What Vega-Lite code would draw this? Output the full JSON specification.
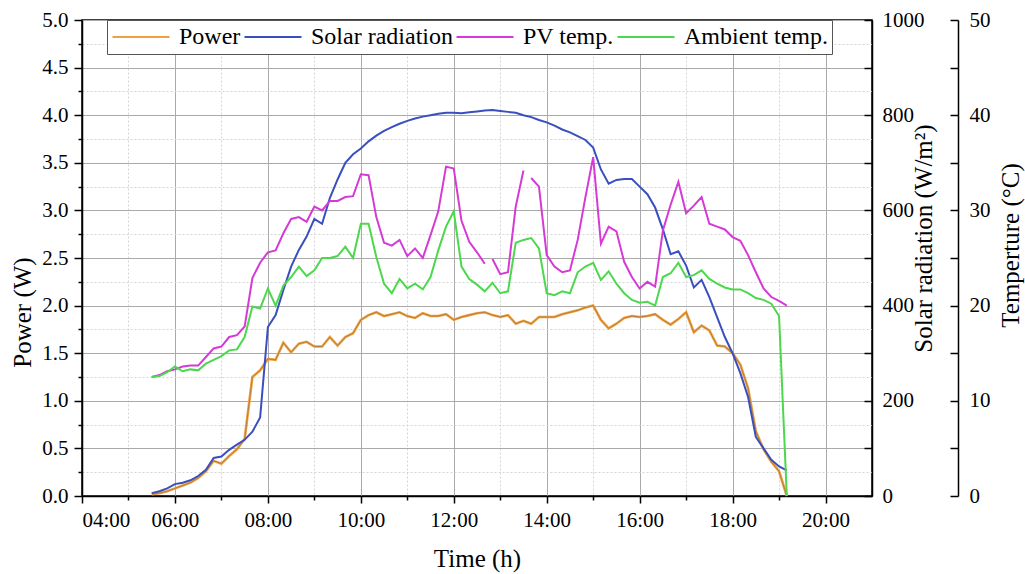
{
  "$schema": "https://vega.github.io/schema/vega-lite/v6.json",
  "width": 790,
  "height": 476,
  "autosize": {"type": "none"},
  "padding": {"left": 82, "top": 20, "right": 153, "bottom": 78},
  "background": "white",
  "config": {
    "view": {"stroke": "black", "strokeWidth": 1.5},
    "font": "Liberation Serif",
    "axis": {
      "labelFont": "Liberation Serif", "labelFontSize": 21, "labelColor": "black",
      "titleFont": "Liberation Serif", "titleFontSize": 25, "titleFontWeight": "normal", "titleColor": "black",
      "domainColor": "black", "domainWidth": 1.5, "tickColor": "black", "tickWidth": 1.5
    },
    "legend": {"labelFont": "Liberation Serif"}
  },
  "data": {"values": [
    {"time": "2021-06-01T05:30", "power": 0.02, "solar": 6, "pv": 12.5, "ambient": 12.5},
    {"time": "2021-06-01T05:40", "power": 0.03, "solar": 10, "pv": 12.7, "ambient": 12.6},
    {"time": "2021-06-01T05:50", "power": 0.05, "solar": 16, "pv": 13.1, "ambient": 13.0},
    {"time": "2021-06-01T06:00", "power": 0.08, "solar": 25, "pv": 13.3, "ambient": 13.6},
    {"time": "2021-06-01T06:10", "power": 0.11, "solar": 28, "pv": 13.6, "ambient": 13.1},
    {"time": "2021-06-01T06:20", "power": 0.14, "solar": 33, "pv": 13.7, "ambient": 13.3},
    {"time": "2021-06-01T06:30", "power": 0.19, "solar": 42, "pv": 13.7, "ambient": 13.2},
    {"time": "2021-06-01T06:40", "power": 0.26, "solar": 55, "pv": 14.6, "ambient": 13.9},
    {"time": "2021-06-01T06:50", "power": 0.37, "solar": 80, "pv": 15.5, "ambient": 14.3},
    {"time": "2021-06-01T07:00", "power": 0.34, "solar": 83, "pv": 15.7, "ambient": 14.7},
    {"time": "2021-06-01T07:10", "power": 0.42, "solar": 97, "pv": 16.7, "ambient": 15.3},
    {"time": "2021-06-01T07:20", "power": 0.49, "solar": 108, "pv": 16.9, "ambient": 15.4},
    {"time": "2021-06-01T07:30", "power": 0.60, "solar": 118, "pv": 17.8, "ambient": 16.7},
    {"time": "2021-06-01T07:40", "power": 1.25, "solar": 135, "pv": 22.9, "ambient": 19.9},
    {"time": "2021-06-01T07:50", "power": 1.32, "solar": 165, "pv": 24.5, "ambient": 19.7},
    {"time": "2021-06-01T08:00", "power": 1.44, "solar": 355, "pv": 25.6, "ambient": 21.8},
    {"time": "2021-06-01T08:10", "power": 1.43, "solar": 380, "pv": 25.8, "ambient": 20.0},
    {"time": "2021-06-01T08:20", "power": 1.61, "solar": 433, "pv": 27.6, "ambient": 22.1},
    {"time": "2021-06-01T08:30", "power": 1.51, "solar": 482, "pv": 29.1, "ambient": 23.0},
    {"time": "2021-06-01T08:40", "power": 1.60, "solar": 517, "pv": 29.3, "ambient": 24.1},
    {"time": "2021-06-01T08:50", "power": 1.62, "solar": 545, "pv": 28.8, "ambient": 23.1},
    {"time": "2021-06-01T09:00", "power": 1.57, "solar": 582, "pv": 30.4, "ambient": 23.7},
    {"time": "2021-06-01T09:10", "power": 1.57, "solar": 572, "pv": 30.0, "ambient": 25.0},
    {"time": "2021-06-01T09:20", "power": 1.67, "solar": 626, "pv": 31.0, "ambient": 25.0},
    {"time": "2021-06-01T09:30", "power": 1.58, "solar": 665, "pv": 31.0, "ambient": 25.2},
    {"time": "2021-06-01T09:40", "power": 1.67, "solar": 700, "pv": 31.4, "ambient": 26.2},
    {"time": "2021-06-01T09:50", "power": 1.71, "solar": 718, "pv": 31.5, "ambient": 25.0},
    {"time": "2021-06-01T10:00", "power": 1.85, "solar": 730, "pv": 33.8, "ambient": 28.6},
    {"time": "2021-06-01T10:10", "power": 1.90, "solar": 745, "pv": 33.7, "ambient": 28.6},
    {"time": "2021-06-01T10:20", "power": 1.93, "solar": 757, "pv": 29.3, "ambient": 25.1},
    {"time": "2021-06-01T10:30", "power": 1.89, "solar": 767, "pv": 26.6, "ambient": 22.3},
    {"time": "2021-06-01T10:40", "power": 1.91, "solar": 775, "pv": 26.3, "ambient": 21.3},
    {"time": "2021-06-01T10:50", "power": 1.93, "solar": 782, "pv": 26.9, "ambient": 22.8},
    {"time": "2021-06-01T11:00", "power": 1.89, "solar": 788, "pv": 25.2, "ambient": 21.8},
    {"time": "2021-06-01T11:10", "power": 1.87, "solar": 793, "pv": 26.0, "ambient": 22.3},
    {"time": "2021-06-01T11:20", "power": 1.92, "solar": 797, "pv": 25.0, "ambient": 21.7},
    {"time": "2021-06-01T11:30", "power": 1.89, "solar": 800, "pv": 27.4, "ambient": 23.0},
    {"time": "2021-06-01T11:40", "power": 1.89, "solar": 803, "pv": 29.9, "ambient": 25.8},
    {"time": "2021-06-01T11:50", "power": 1.91, "solar": 805, "pv": 34.6, "ambient": 28.3},
    {"time": "2021-06-01T12:00", "power": 1.85, "solar": 805, "pv": 34.4, "ambient": 29.9},
    {"time": "2021-06-01T12:10", "power": 1.88, "solar": 804, "pv": 28.9, "ambient": 24.1},
    {"time": "2021-06-01T12:20", "power": 1.90, "solar": 806, "pv": 26.7, "ambient": 22.8},
    {"time": "2021-06-01T12:30", "power": 1.92, "solar": 808, "pv": 25.6, "ambient": 22.2},
    {"time": "2021-06-01T12:40", "power": 1.93, "solar": 810, "pv": 24.4, "ambient": 21.5},
    {"time": "2021-06-01T12:45", "pv": null},
    {"time": "2021-06-01T12:50", "power": 1.90, "solar": 811, "pv": 24.9, "ambient": 22.4},
    {"time": "2021-06-01T13:00", "power": 1.88, "solar": 809, "pv": 23.3, "ambient": 21.3},
    {"time": "2021-06-01T13:10", "power": 1.90, "solar": 807, "pv": 23.5, "ambient": 21.5},
    {"time": "2021-06-01T13:20", "power": 1.81, "solar": 805, "pv": 30.4, "ambient": 26.6},
    {"time": "2021-06-01T13:30", "power": 1.84, "solar": 800, "pv": 34.2, "ambient": 26.9},
    {"time": "2021-06-01T13:35", "pv": null},
    {"time": "2021-06-01T13:40", "power": 1.81, "solar": 796, "pv": 33.4, "ambient": 27.1},
    {"time": "2021-06-01T13:50", "power": 1.88, "solar": 790, "pv": 32.5, "ambient": 26.0},
    {"time": "2021-06-01T14:00", "power": 1.88, "solar": 785, "pv": 25.3, "ambient": 21.3},
    {"time": "2021-06-01T14:10", "power": 1.88, "solar": 778, "pv": 24.1, "ambient": 21.1},
    {"time": "2021-06-01T14:20", "power": 1.91, "solar": 770, "pv": 23.5, "ambient": 21.5},
    {"time": "2021-06-01T14:30", "power": 1.93, "solar": 764, "pv": 23.7, "ambient": 21.3},
    {"time": "2021-06-01T14:40", "power": 1.95, "solar": 756, "pv": 26.9, "ambient": 23.5},
    {"time": "2021-06-01T14:50", "power": 1.98, "solar": 748, "pv": 31.4, "ambient": 24.1},
    {"time": "2021-06-01T15:00", "power": 2.00, "solar": 732, "pv": 35.6, "ambient": 24.5},
    {"time": "2021-06-01T15:10", "power": 1.85, "solar": 686, "pv": 26.5, "ambient": 22.7},
    {"time": "2021-06-01T15:20", "power": 1.76, "solar": 656, "pv": 28.3, "ambient": 23.6},
    {"time": "2021-06-01T15:30", "power": 1.81, "solar": 664, "pv": 27.8, "ambient": 22.3},
    {"time": "2021-06-01T15:40", "power": 1.87, "solar": 666, "pv": 24.6, "ambient": 21.3},
    {"time": "2021-06-01T15:50", "power": 1.89, "solar": 666, "pv": 23.0, "ambient": 20.6},
    {"time": "2021-06-01T16:00", "power": 1.88, "solar": 650, "pv": 21.8, "ambient": 20.3},
    {"time": "2021-06-01T16:10", "power": 1.89, "solar": 634, "pv": 22.5, "ambient": 20.4},
    {"time": "2021-06-01T16:20", "power": 1.91, "solar": 606, "pv": 22.0, "ambient": 20.0},
    {"time": "2021-06-01T16:30", "power": 1.85, "solar": 560, "pv": 27.9, "ambient": 23.0},
    {"time": "2021-06-01T16:40", "power": 1.80, "solar": 508, "pv": 30.6, "ambient": 23.4},
    {"time": "2021-06-01T16:50", "power": 1.86, "solar": 514, "pv": 33.0, "ambient": 24.5},
    {"time": "2021-06-01T17:00", "power": 1.93, "solar": 484, "pv": 29.7, "ambient": 23.0},
    {"time": "2021-06-01T17:10", "power": 1.72, "solar": 438, "pv": 30.5, "ambient": 23.2},
    {"time": "2021-06-01T17:20", "power": 1.79, "solar": 454, "pv": 31.4, "ambient": 23.7},
    {"time": "2021-06-01T17:30", "power": 1.74, "solar": 418, "pv": 28.6, "ambient": 22.8},
    {"time": "2021-06-01T17:40", "power": 1.58, "solar": 376, "pv": 28.3, "ambient": 22.3},
    {"time": "2021-06-01T17:50", "power": 1.57, "solar": 334, "pv": 28.0, "ambient": 21.9},
    {"time": "2021-06-01T18:00", "power": 1.50, "solar": 300, "pv": 27.2, "ambient": 21.7},
    {"time": "2021-06-01T18:10", "power": 1.38, "solar": 258, "pv": 26.8, "ambient": 21.7},
    {"time": "2021-06-01T18:20", "power": 1.13, "solar": 208, "pv": 25.3, "ambient": 21.3},
    {"time": "2021-06-01T18:30", "power": 0.68, "solar": 124, "pv": 23.5, "ambient": 20.8},
    {"time": "2021-06-01T18:40", "power": 0.49, "solar": 100, "pv": 21.8, "ambient": 20.6},
    {"time": "2021-06-01T18:50", "power": 0.36, "solar": 76, "pv": 20.9, "ambient": 20.2},
    {"time": "2021-06-01T19:00", "power": 0.26, "solar": 62, "pv": 20.5, "ambient": 18.9},
    {"time": "2021-06-01T19:10", "power": 0.00, "solar": 54, "pv": 20.0, "ambient": 0.0}
  ]},
  "encoding": {
    "x": {
      "field": "time", "type": "temporal",
      "scale": {"domain": [
        {"year": 2021, "month": 6, "date": 1, "hours": 4},
        {"year": 2021, "month": 6, "date": 1, "hours": 21}
      ]},
      "axis": {
        "title": "Time (h)",
        "titleX": 395, "titleY": 62, "titleAlign": "center", "titleBaseline": "middle",
        "values": [
          {"year": 2021, "month": 6, "date": 1, "hours": 4},
          {"year": 2021, "month": 6, "date": 1, "hours": 5},
          {"year": 2021, "month": 6, "date": 1, "hours": 6},
          {"year": 2021, "month": 6, "date": 1, "hours": 7},
          {"year": 2021, "month": 6, "date": 1, "hours": 8},
          {"year": 2021, "month": 6, "date": 1, "hours": 9},
          {"year": 2021, "month": 6, "date": 1, "hours": 10},
          {"year": 2021, "month": 6, "date": 1, "hours": 11},
          {"year": 2021, "month": 6, "date": 1, "hours": 12},
          {"year": 2021, "month": 6, "date": 1, "hours": 13},
          {"year": 2021, "month": 6, "date": 1, "hours": 14},
          {"year": 2021, "month": 6, "date": 1, "hours": 15},
          {"year": 2021, "month": 6, "date": 1, "hours": 16},
          {"year": 2021, "month": 6, "date": 1, "hours": 17},
          {"year": 2021, "month": 6, "date": 1, "hours": 18},
          {"year": 2021, "month": 6, "date": 1, "hours": 19},
          {"year": 2021, "month": 6, "date": 1, "hours": 20}
        ],
        "labelExpr": "hours(datum.value) % 2 == 0 ? timeFormat(datum.value, '%H:%M') : ''",
        "labelPadding": 6,
        "tickSize": {"condition": {"test": "hours(datum.value) % 2 == 1", "value": 4}, "value": 7},
        "grid": true,
        "gridColor": {"condition": {"test": "hours(datum.value) % 2 == 1", "value": "#d4d4d4"}, "value": "#aaaaaa"},
        "gridDash": {"condition": {"test": "hours(datum.value) % 2 == 1", "value": [2, 2]}, "value": []},
        "gridWidth": 1
      }
    }
  },
  "layer": [
    {
      "transform": [{"filter": "isValid(datum.power)"}],
      "mark": {"type": "line", "strokeWidth": 2.6},
      "encoding": {
        "y": {
          "field": "power", "type": "quantitative",
          "scale": {"domain": [0, 5], "nice": false},
          "axis": {
            "title": "Power (W)",
            "titleAngle": -90, "titleX": -60, "titleY": 292, "titleAlign": "center", "titleBaseline": "middle",
            "values": [0, 0.25, 0.5, 0.75, 1, 1.25, 1.5, 1.75, 2, 2.25, 2.5, 2.75, 3, 3.25, 3.5, 3.75, 4, 4.25, 4.5, 4.75, 5],
            "labelExpr": "datum.value % 0.5 == 0 ? format(datum.value, '.1f') : ''",
            "labelPadding": 6,
            "tickSize": {"condition": {"test": "datum.value % 0.5 != 0", "value": 4}, "value": 8},
            "grid": true,
            "gridColor": {"condition": {"test": "datum.value % 0.5 != 0", "value": "#d4d4d4"}, "value": "#aaaaaa"},
            "gridDash": {"condition": {"test": "datum.value % 0.5 != 0", "value": [2, 2]}, "value": []},
            "gridWidth": 1
          }
        },
        "color": {
          "datum": "Power", "type": "nominal",
          "scale": {
            "domain": ["Power", "Solar radiation", "PV temp.", "Ambient temp."],
            "range": ["#F0A040", "#3A4FBF", "#D63AD6", "#4CD84C"]
          },
          "legend": {
            "title": null, "orient": "none", "legendX": 25, "legendY": 0,
            "direction": "horizontal",
            "strokeColor": "#555555", "fillColor": "white", "padding": 4,
            "labelFontSize": 24, "labelColor": "black", "labelOffset": 8,
            "symbolSize": 3250, "symbolStrokeWidth": 2, "columnPadding": 2,
            "clipHeight": 26,
            "labelLimit": 300
          }
        }
      }
    },
    {
      "transform": [{"filter": "isValid(datum.power)"}],
      "mark": {"type": "line", "strokeWidth": 0.5, "color": "#333333", "opacity": 0.6},
      "encoding": {
        "y": {"field": "power", "type": "quantitative", "scale": {"domain": [0, 5], "nice": false}, "axis": null}
      }
    },
    {
      "transform": [{"filter": "isValid(datum.solar)"}],
      "mark": {"type": "line", "strokeWidth": 2},
      "encoding": {
        "y": {
          "field": "solar", "type": "quantitative",
          "scale": {"domain": [0, 1000], "nice": false},
          "axis": {
            "orient": "right",
            "title": "Solar radiation (W/m²)",
            "titleAngle": -90, "titleX": 51, "titleY": 218, "titleAlign": "center", "titleBaseline": "middle",
            "values": [0, 100, 200, 300, 400, 500, 600, 700, 800, 900, 1000],
            "format": "d",
            "labelExpr": "datum.value % 200 == 0 ? datum.label : ''",
            "tickSize": -8, "labelPadding": 18,
            "grid": false
          }
        },
        "color": {"datum": "Solar radiation", "type": "nominal"}
      }
    },
    {
      "mark": {"type": "line", "strokeWidth": 2, "invalid": "break-paths-filter-domains"},
      "encoding": {
        "y": {
          "field": "pv", "type": "quantitative",
          "scale": {"domain": [0, 50], "nice": false},
          "axis": {
            "orient": "right", "offset": 86,
            "title": "Temperture (°C)",
            "titleAngle": -90, "titleX": 52, "titleY": 225, "titleAlign": "center", "titleBaseline": "middle",
            "values": [0, 5, 10, 15, 20, 25, 30, 35, 40, 45, 50],
            "labelExpr": "datum.value % 10 == 0 ? datum.label : ''",
            "tickSize": -8, "labelPadding": 19,
            "grid": false
          }
        },
        "color": {"datum": "PV temp.", "type": "nominal"}
      }
    },
    {
      "transform": [{"filter": "isValid(datum.ambient)"}],
      "mark": {"type": "line", "strokeWidth": 2},
      "encoding": {
        "y": {"field": "ambient", "type": "quantitative", "scale": {"domain": [0, 50], "nice": false}, "axis": null},
        "color": {"datum": "Ambient temp.", "type": "nominal"}
      }
    }
  ],
  "resolve": {"scale": {"y": "independent"}}
}
